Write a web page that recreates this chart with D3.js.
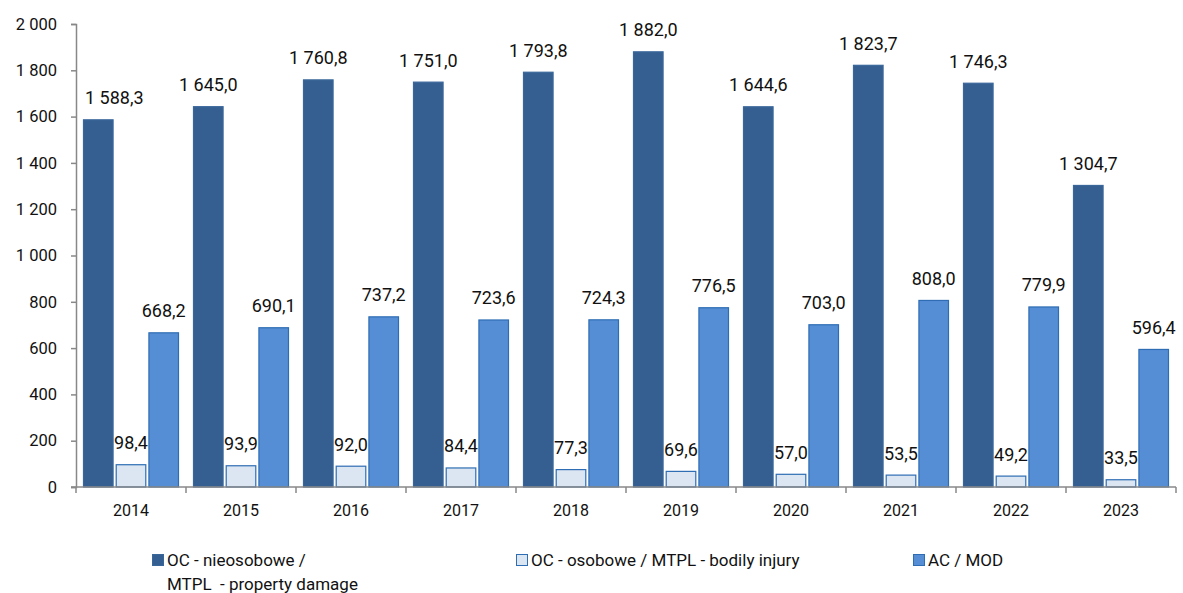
<!DOCTYPE html>
<html><head><meta charset="utf-8">
<script src="https://cdn.jsdelivr.net/npm/d3@7"></script>
<style>body{margin:0;background:#fff}svg{display:block}</style>
</head><body>
<svg id="c" width="1183" height="593"></svg>
<script>
const years = ["2014","2015","2016","2017","2018","2019","2020","2021","2022","2023"];
const ocProperty = [1588.3,1645.0,1760.8,1751.0,1793.8,1882.0,1644.6,1823.7,1746.3,1304.7];
const ocBodily = [98.4,93.9,92.0,84.4,77.3,69.6,57.0,53.5,49.2,33.5];
const acMod = [668.2,690.1,737.2,723.6,724.3,776.5,703.0,808.0,779.9,596.4];
const yTicks = [0,200,400,600,800,1000,1200,1400,1600,1800,2000];
const seriesNames = ["OC - nieosobowe /\nMTPL  - property damage","OC - osobowe / MTPL - bodily injury","AC / MOD"];

const series = [
  {key:"p", name:seriesNames[0], values:ocProperty, fill:"#365f91", stroke:"#3a679b"},
  {key:"b", name:seriesNames[1], values:ocBodily, fill:"#dce6f2", stroke:"#2e6db3"},
  {key:"a", name:seriesNames[2], values:acMod, fill:"#558ed5", stroke:"#2e6db3"}
];

const svg = d3.select("#c");
const FONT = "Roboto, 'DejaVu Sans', sans-serif";
const mLeft = 76, mRight = 1176, mTop = 24, mBottom = 487;

const x = d3.scaleBand().domain(years).range([mLeft,mRight]).paddingInner(0).paddingOuter(0);
const x1 = d3.scaleBand().domain(series.map(s=>s.key)).range([7,103]).paddingInner(0.065).paddingOuter(0);
const y = d3.scaleLinear().domain([0,2000]).range([mBottom,mTop]);

const fmt = v => {
  const s = v.toFixed(1).replace(".", ",");
  const [i,d] = s.split(",");
  return i.replace(/\B(?=(\d{3})+(?!\d))/g, " ") + "," + d;
};
const fmtTick = v => String(v).replace(/\B(?=(\d{3})+(?!\d))/g, " ");

// bars
const g = svg.append("g");
series.forEach(s => {
  g.selectAll(null).data(years).enter().append("rect")
    .attr("x", d => x(d) + x1(s.key) + 0.5)
    .attr("y", (d,i) => y(s.values[i]) + 0.5)
    .attr("width", x1.bandwidth() - 1)
    .attr("height", (d,i) => mBottom - y(s.values[i]) - 0.5)
    .attr("fill", s.fill).attr("stroke", s.stroke).attr("stroke-width", 1.2);
});

// labels
series.forEach(s => {
  g.selectAll(null).data(years).enter().append("text")
    .attr("x", d => x(d) + x1(s.key) + x1.bandwidth()/2)
    .attr("y", (d,i) => y(s.values[i]) - 15)
    .attr("text-anchor","middle")
    .attr("font-family", FONT).attr("font-size", 18).attr("fill","#111")
    .text((d,i) => fmt(s.values[i]))
    .each(function(){
      // keep labels clear of the y axis
      const b = this.getBBox();
      if (b.x < mLeft + 9) d3.select(this).attr("x", +this.getAttribute("x") + (mLeft + 9 - b.x));
    });
});

// y axis
const yAxis = d3.axisLeft(y).tickValues(yTicks).tickFormat(fmtTick).tickSize(5).tickPadding(14);
const ya = svg.append("g").attr("transform", `translate(${mLeft},0)`).call(yAxis);
ya.select(".domain").attr("stroke","#888").attr("stroke-width",1.5);
ya.selectAll(".tick line").attr("stroke","#888").attr("stroke-width",1.5);
ya.selectAll("text").attr("font-family",FONT).attr("font-size",16.5).attr("fill","#111");

// x axis
const xa = svg.append("g").attr("transform", `translate(0,${mBottom})`);
xa.append("line").attr("x1",mLeft-5).attr("x2",mRight).attr("y1",0).attr("y2",0).attr("stroke","#888").attr("stroke-width",1.5);
const bounds = years.map(d => x(d)).concat([mRight]);
xa.selectAll(null).data(bounds).enter().append("line")
  .attr("x1",d=>d).attr("x2",d=>d).attr("y1",0).attr("y2",6).attr("stroke","#888").attr("stroke-width",1.5);
xa.selectAll(null).data(years).enter().append("text")
  .attr("x", d => x(d) + x.bandwidth()/2).attr("y", 29)
  .attr("text-anchor","middle").attr("font-family",FONT).attr("font-size",16).attr("fill","#111")
  .text(d=>d);

// legend
const legX = [152, 516, 913];
series.forEach((s,i) => {
  const lg = svg.append("g").attr("transform", `translate(${legX[i]},0)`);
  lg.append("rect").attr("x",0.5).attr("y",554.5).attr("width",11).attr("height",11)
    .attr("fill",s.fill).attr("stroke",s.stroke).attr("stroke-width",1);
  const lines = s.name.split("\n");
  lines.forEach((t,j) => {
    lg.append("text").attr("x",15).attr("y",566 + j*24)
      .attr("font-family",FONT).attr("font-size",17).attr("fill","#111")
      .attr("xml:space","preserve").style("white-space","pre").text(t);
  });
});
</script>
</body></html>
